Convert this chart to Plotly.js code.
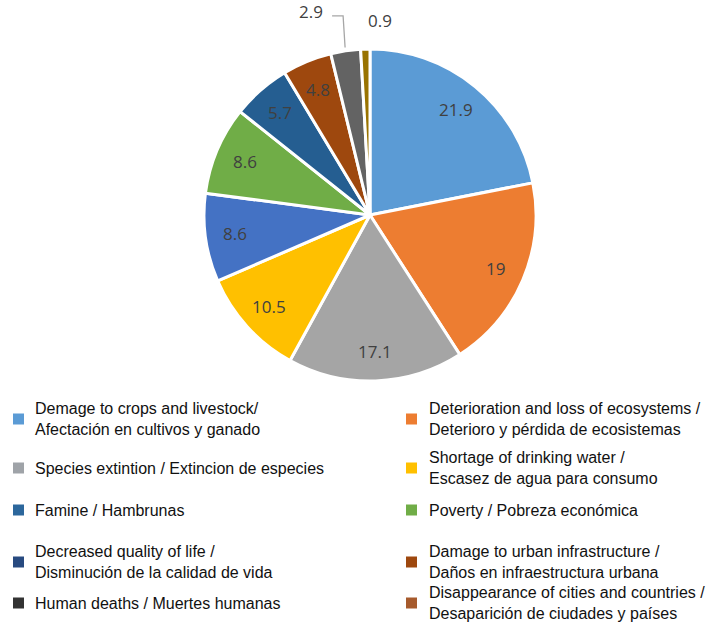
<!DOCTYPE html>
<html>
<head>
<meta charset="utf-8">
<script src="https://cdn.plot.ly/plotly-3.0.1.min.js"></script>
<style>html,body{margin:0;padding:0;background:#fff;}#chart{width:706px;height:629px;}</style>
</head>
<body>
<div id="chart"></div>
<script>
// ---- data ----
const categories = [
  "Demage to crops and livestock/\nAfectación en cultivos y ganado",
  "Deterioration and loss of ecosystems /\nDeterioro y pérdida de ecosistemas",
  "Species extintion / Extincion de especies",
  "Shortage of drinking water /\nEscasez de agua para consumo",
  "Famine / Hambrunas",
  "Poverty / Pobreza económica",
  "Decreased quality of life /\nDisminución de la calidad de vida",
  "Damage to urban infrastructure /\nDaños en infraestructura urbana",
  "Human deaths / Muertes humanas",
  "Disappearance of cities and countries /\nDesaparición de ciudades y países"
];
const values = [21.9, 19, 17.1, 10.5, 8.6, 8.6, 5.7, 4.8, 2.9, 0.9];
const sliceColors = ["#5B9BD5","#ED7D31","#A5A5A5","#FFC000","#4472C4","#70AD47","#255E91","#9E480E","#636363","#997300"];
const legendColors = ["#5B9BD5","#ED7D31","#9FA3A8","#FFC000","#2C679C","#70AD47","#284A80","#9E480E","#333333","#A65A2C"];

// ---- layout helpers ----
const W = 706, H = 629;
const cx = 370, cy = 215, R = 166;
const px = x => x / W, py = y => 1 - y / H;

const trace = {
  type: "pie",
  values: values,
  labels: categories.map(c => c.replace("\n", " ")),
  sort: false,
  direction: "clockwise",
  rotation: 0,
  marker: {colors: sliceColors, line: {color: "#ffffff", width: 3}},
  textinfo: "none",
  showlegend: false,
  hoverinfo: "label+value",
  domain: {x: [px(cx - R), px(cx + R)], y: [py(cy + R), py(cy - R)]}
};

const shapes = [], annotations = [];
const labFont = {family: "Open Sans, sans-serif", size: 17, color: "#404040"};

// data labels placed along each slice's bisector (computed from the values)
const total = values.reduce((a, b) => a + b, 0);
let cum = 0;
values.forEach((v, i) => {
  const mid = (cum + v / 2) / total * 2 * Math.PI;
  cum += v;
  const pt = r => [cx + r * Math.sin(mid), cy - r * Math.cos(mid)];
  if (v >= 4) {
    const [x, y] = pt(0.82 * R);
    annotations.push({xref: "paper", yref: "paper", x: px(x), y: py(y), text: String(v),
      showarrow: false, xanchor: "center", yanchor: "middle", font: labFont});
  } else if (v >= 2) {
    // label with elbow leader line
    const [ex, ey] = pt(1.02 * R);
    const ly = cy - 1.2 * R;
    annotations.push({xref: "paper", yref: "paper", x: px(ex - 20), y: py(ly - 4), text: String(v),
      showarrow: false, xanchor: "right", yanchor: "middle", font: labFont});
    shapes.push({type: "path", xref: "paper", yref: "paper",
      path: `M ${px(ex - 13)} ${py(ly)} L ${px(ex - 2)} ${py(ly)} L ${px(ex)} ${py(ey)}`,
      line: {color: "#A6A6A6", width: 1.3}});
  } else {
    const [x, y] = pt(1.18 * R);
    annotations.push({xref: "paper", yref: "paper", x: px(x + 2), y: py(y + 1), text: String(v),
      showarrow: false, xanchor: "left", yanchor: "middle", font: labFont});
  }
});

// manual two-column legend
const colX = [[13, 33], [406, 427]];
const rowY = [419, 468, 510, 562, 603];
const legFont = {family: "Liberation Sans, Arial, sans-serif", size: 16, color: "#111111"};
categories.forEach((c, i) => {
  const col = i % 2, row = Math.floor(i / 2);
  const sx = colX[col][0], tx = colX[col][1];
  const y = rowY[row];
  shapes.push({type: "rect", xref: "paper", yref: "paper",
    x0: px(sx), x1: px(sx + 11), y0: py(y + 5.5), y1: py(y - 5.5),
    fillcolor: legendColors[i], line: {width: 0}});
  annotations.push({xref: "paper", yref: "paper", x: px(tx), y: py(y),
    xanchor: "left", yanchor: "middle", align: "left", text: c.split("\n").join("<br>"),
    showarrow: false, font: legFont});
});

const layout = {
  width: W, height: H,
  margin: {l: 0, r: 0, t: 0, b: 0},
  paper_bgcolor: "#ffffff",
  shapes: shapes,
  annotations: annotations
};
Plotly.newPlot("chart", [trace], layout, {displayModeBar: false, staticPlot: true});
</script>
</body>
</html>
